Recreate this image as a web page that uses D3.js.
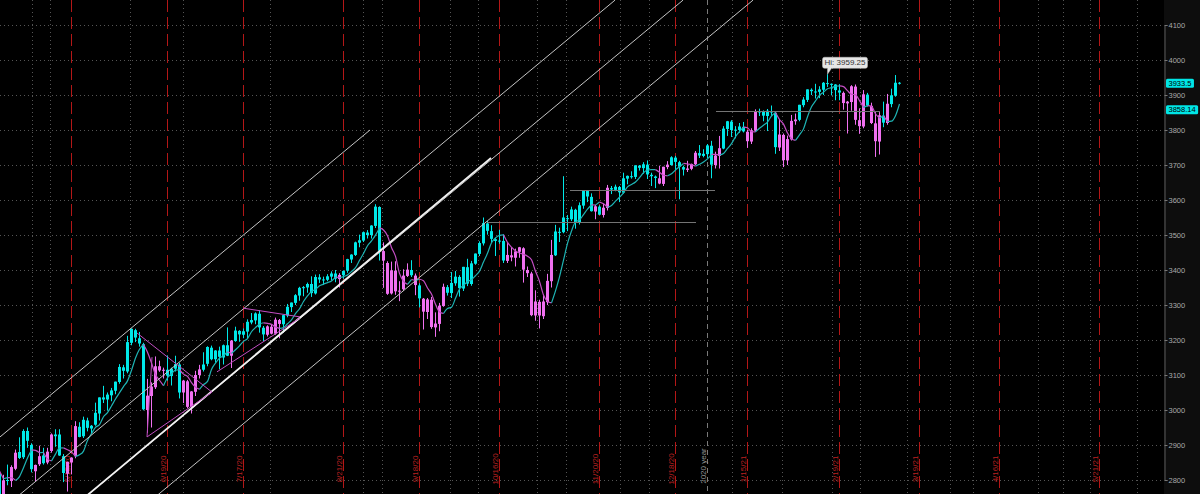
<!DOCTYPE html>
<html><head><meta charset="utf-8">
<script src="https://cdn.jsdelivr.net/npm/d3@7"></script>
<style>html,body{margin:0;padding:0;background:#000;overflow:hidden}svg{display:block}</style>
</head><body><svg id="c" width="1200" height="494"></svg>
<script>
// ---------------- DATA ----------------
const tradingDays = [
 ["2020-04",[14,15,16,17,20,21,22,23,24,27,28,29,30]],
 ["2020-05",[1,4,5,6,7,8,11,12,13,14,15,18,19,20,21,22,26,27,28,29]],
 ["2020-06",[1,2,3,4,5,8,9,10,11,12,15,16,17,18,19,22,23,24,25,26,29,30]],
 ["2020-07",[1,2,6,7,8,9,10,13,14,15,16,17,20,21,22,23,24,27,28,29,30,31]],
 ["2020-08",[3,4,5,6,7,10,11,12,13,14,17,18,19,20,21,24,25,26,27,28,31]],
 ["2020-09",[1,2,3,4,8,9,10,11,14,15,16,17,18,21,22,23,24,25,28,29,30]],
 ["2020-10",[1,2,5,6,7,8,9,12,13,14,15,16,19,20,21,22,23,26,27,28,29,30]],
 ["2020-11",[2,3,4,5,6,9,10,11,12,13,16,17,18,19,20,23,24,25,27,30]],
 ["2020-12",[1,2,3,4,7,8,9,10,11,14,15,16,17,18,21,22,23,24,28,29,30,31]],
 ["2021-01",[4,5,6,7,8,11,12,13,14,15,19,20,21,22,25,26,27,28,29]],
 ["2021-02",[1,2,3,4,5,8,9,10,11,12,16,17,18,19,22,23,24,25,26]],
 ["2021-03",[1,2,3,4,5,8,9,10,11,12]]
];
const opens = [2790,2842,2782,2805,2860,2820,2740,2800,2797,2832,2880,2865,2940,
 2900,2825,2845,2870,2850,2883,2925,2930,2868,2818,2850,2868,2952,2925,2970,2947,2958,2990,3036,3030,
 3042,3055,3080,3122,3110,3192,3228,3205,3188,3000,3040,3065,3125,3112,3115,3097,3118,3130,3050,3082,3008,3052,
 3100,3115,3132,3178,3145,3170,3150,3185,3155,3197,3226,3215,3224,3250,3256,3275,3235,3215,3238,3218,3257,3245,
 3270,3294,3306,3327,3348,3350,3360,3333,3379,3372,3372,3381,3390,3374,3385,3398,3430,3443,3478,3484,3507,
 3500,3526,3580,3454,3420,3333,3398,3338,3345,3383,3400,3384,3356,3318,3280,3315,3236,3246,3297,3351,3334,
 3362,3380,3347,3408,3360,3418,3446,3476,3533,3511,3488,3482,3483,3426,3442,3435,3452,3462,3400,3390,3270,3309,
 3268,3308,3368,3442,3509,3508,3548,3545,3572,3536,3584,3626,3609,3567,3581,3557,3577,3634,3629,3637,
 3621,3661,3668,3666,3698,3691,3701,3672,3667,3662,3646,3694,3700,3721,3708,3694,3686,3689,3702,3734,3726,3731,
 3755,3700,3726,3747,3803,3824,3799,3800,3809,3795,3767,3798,3851,3852,3840,3854,3849,3750,3786,
 3713,3773,3825,3829,3871,3886,3915,3910,3909,3915,3934,3932,3930,3913,3906,3876,3880,3924,3828,
 3810,3901,3869,3819,3767,3841,3820,3874,3898,3935];
const highs = [2851,2846,2806,2879,2868,2826,2815,2844,2842,2887,2922,2945,2950,
 2905,2844,2898,2892,2892,2933,2945,2945,2874,2852,2865,2968,2965,2981,2978,2957,3021,3036,3069,3050,
 3063,3081,3131,3129,3212,3233,3232,3223,3192,3089,3079,3153,3141,3121,3156,3121,3155,3135,3086,3086,3054,3112,
 3129,3165,3182,3184,3171,3181,3187,3236,3200,3238,3228,3233,3259,3277,3279,3285,3240,3242,3245,3264,3260,3272,
 3303,3307,3331,3352,3354,3364,3382,3387,3388,3381,3388,3396,3400,3391,3399,3432,3445,3481,3501,3510,3514,
 3528,3588,3582,3479,3425,3424,3425,3368,3402,3419,3428,3390,3362,3320,3320,3323,3279,3306,3361,3357,3394,
 3397,3385,3409,3432,3426,3447,3482,3550,3540,3528,3492,3515,3502,3477,3465,3461,3466,3465,3410,3395,3342,3315,
 3330,3389,3486,3529,3521,3668,3557,3581,3575,3593,3628,3628,3619,3586,3585,3589,3643,3640,3644,3640,
 3678,3670,3682,3699,3700,3708,3713,3678,3670,3698,3695,3711,3725,3726,3712,3698,3712,3704,3740,3757,3745,3760,
 3769,3738,3783,3811,3826,3828,3811,3820,3823,3800,3805,3859,3861,3856,3860,3870,3852,3830,3790,
 3784,3843,3847,3872,3894,3916,3919,3932,3925,3937,3959.25,3933,3931,3931,3910,3883,3928,3930,3862,
 3914,3906,3878,3852,3851,3881,3903,3918,3957,3937];
const lows = [2785,2760,2755,2800,2812,2727,2735,2785,2780,2828,2860,2860,2892,
 2822,2797,2840,2844,2845,2878,2895,2869,2794,2767,2816,2862,2922,2920,2939,2933,2955,2970,3020,2998,
 3025,3045,3075,3090,3105,3185,3194,3181,2999,2935,2950,3060,3109,3090,3084,3070,3110,3033,3020,3005,2990,3040,
 3090,3110,3125,3142,3135,3116,3130,3154,3120,3195,3195,3205,3205,3245,3245,3221,3197,3210,3216,3215,3205,3220,
 3265,3280,3300,3312,3325,3335,3323,3330,3363,3357,3368,3370,3365,3350,3375,3392,3420,3440,3465,3480,3490,
 3490,3520,3427,3349,3329,3330,3329,3311,3340,3380,3380,3328,3293,3230,3260,3232,3209,3225,3295,3327,3320,
 3355,3324,3340,3354,3355,3415,3440,3470,3501,3478,3440,3475,3420,3420,3425,3410,3435,3364,3380,3268,3255,3233,
 3260,3300,3350,3440,3480,3505,3511,3540,3518,3530,3575,3594,3567,3545,3557,3550,3570,3617,3625,3594,
 3618,3645,3661,3660,3684,3675,3660,3640,3634,3645,3640,3688,3698,3686,3602,3670,3680,3685,3700,3720,3722,3720,
 3662,3690,3690,3745,3783,3780,3776,3792,3793,3749,3760,3795,3840,3825,3797,3840,3732,3740,3694,
 3700,3770,3815,3825,3865,3880,3900,3890,3891,3900,3923,3899,3885,3885,3858,3790,3855,3815,3789,
 3805,3867,3817,3723,3730,3808,3815,3865,3895,3930];
const closes = [2846,2783,2800,2875,2823,2737,2799,2798,2837,2878,2863,2940,2912,
 2831,2843,2868,2848,2881,2930,2930,2870,2820,2852,2864,2954,2923,2972,2949,2955,2992,3036,3030,3044,
 3056,3081,3123,3112,3194,3232,3207,3190,3002,3041,3067,3125,3113,3115,3098,3118,3131,3050,3084,3009,3053,3100,
 3116,3130,3180,3145,3170,3152,3185,3155,3198,3227,3216,3225,3252,3257,3276,3236,3216,3239,3218,3258,3246,3271,
 3295,3307,3328,3349,3351,3360,3334,3380,3373,3373,3382,3390,3375,3386,3397,3431,3444,3479,3485,3508,3500,
 3527,3581,3455,3427,3332,3399,3339,3341,3384,3401,3385,3357,3319,3281,3316,3237,3247,3298,3352,3335,3363,
 3381,3348,3409,3361,3419,3447,3477,3534,3512,3489,3483,3484,3427,3443,3436,3453,3465,3401,3391,3271,3310,3270,
 3310,3369,3443,3510,3509,3550,3546,3573,3537,3585,3627,3610,3568,3582,3558,3578,3635,3630,3638,3622,
 3662,3669,3667,3699,3692,3702,3673,3668,3663,3647,3695,3701,3722,3709,3695,3687,3690,3703,3735,3727,3732,3756,
 3701,3727,3748,3804,3825,3800,3801,3810,3796,3768,3799,3852,3853,3841,3855,3850,3751,3787,3714,
 3774,3826,3830,3872,3887,3916,3911,3910,3916,3935,3933,3931,3914,3907,3877,3881,3925,3829,3811,
 3902,3870,3820,3768,3842,3821,3875,3899,3935,3933.5];
const yTicks = [2800,2900,3000,3100,3200,3300,3400,3500,3600,3700,3800,3900,4000,4100];
const expiryLabels = ["5/15/20","6/19/20","7/17/20","8/21/20","9/18/20","10/16/20","11/20/20","12/18/20","1/15/21","2/19/21","3/19/21","4/16/21","5/21/21"];
const yearMarker = {date:"12/31/20", label:"2020 year"};
const hiLabel = {date:"2/16/21", value:3959.25, text:"Hi: 3959.25"};
const lastPriceLabel = "3933.5", lastPriceValue = 3933.5;
const maLabel = "3858.14", maLabelValue = 3858.14;
const maLength = 5, maShift = 1;
// drawings: [bars from 5/15/20, price] pairs
const channelLines = [[-17.75,2923,74.75,3800],[-20,2690,136,4171],[2.25,2739,153,4171],[19.75,2739,170.5,4171]];
const boldLine = [2.25,2739,105,3720];
const levelLines = [[104,156.25,3537],[124.75,161,3629],[161.25,202.25,3854]];
const patternLines = [[16.5,3220,35.25,3051],[19,2923,35.25,3051],[20.25,3151,19,2923],[43,3291,57.25,3266],[36.5,3109,57.25,3263]];
const weekGridX = [-9.75,-5.25,14.75,28,49.75,73,77.75,94.75,101.75,116.5,123.75,137.25,144.5,165.25,177.75,190.25,197.25,209,219.75,225.5,241.75,248,254.75,266.5];

// ---------------- BUILD ----------------
const dates = [];
tradingDays.forEach(([m,ds])=>ds.forEach(d=>dates.push(m+"-"+String(d).padStart(2,"0"))));
function isoOf(mdY){const [m,d,y]=mdY.split("/");return "20"+y+"-"+m.padStart(2,"0")+"-"+d.padStart(2,"0");}
function idxOf(mdY){
  const iso=isoOf(mdY); const k=dates.indexOf(iso); if(k>=0) return k;
  let dt=new Date(dates[dates.length-1]+"T12:00:00Z"), target=new Date(iso+"T12:00:00Z"), n=dates.length-1;
  while(dt<target){dt=new Date(dt.getTime()+86400000); const w=dt.getUTCDay(); if(w!==0&&w!==6) n++;}
  return n;
}
const i0 = idxOf("5/15/20"), i1 = idxOf("5/21/21");
const W=1200,H=494, axisX=1164;
const FONT="Liberation Sans, Arial, sans-serif";
const x = d3.scaleLinear().domain([i0,i1]).range([71,1099]);
const y = d3.scaleLinear().domain([2800,4100]).range([480,25]);
const xb = b => x(i0+b);

const svg = d3.select("#c");
svg.append("rect").attr("width",W).attr("height",H).attr("fill","#000");
svg.append("rect").attr("x",axisX).attr("width",W-axisX).attr("height",H).attr("fill","#0d0d0d");
svg.append("clipPath").attr("id","pc").append("rect").attr("width",axisX).attr("height",H);
const plot = svg.append("g").attr("clip-path","url(#pc)");

// horizontal grid
plot.selectAll(".hg").data(yTicks).join("line").attr("x1",0).attr("x2",axisX)
 .attr("y1",d=>Math.round(y(d))+0.5).attr("y2",d=>Math.round(y(d))+0.5)
 .attr("stroke","#555").attr("stroke-dasharray","1,3");
// vertical dotted grid
plot.selectAll(".vg").data(weekGridX).join("line")
 .attr("x1",d=>Math.round(xb(d))+0.5).attr("x2",d=>Math.round(xb(d))+0.5).attr("y1",0).attr("y2",H)
 .attr("stroke","#555").attr("stroke-dasharray","1,3");
// expiry lines
expiryLabels.forEach(l=>{
  const xx=Math.round(x(idxOf(l)))+0.5;
  plot.append("line").attr("x1",xx).attr("x2",xx).attr("y1",0).attr("y2",H)
   .attr("stroke","#b31717").attr("stroke-dasharray","12,5");
  plot.append("text").attr("transform",`translate(${xx-2},469) rotate(-90)`).attr("text-anchor","middle")
   .attr("fill","#bb2020").attr("font-family",FONT).attr("font-size",8).text(l);
});
{ const xx=Math.round(x(idxOf(yearMarker.date)))+0.5;
  plot.append("line").attr("x1",xx).attr("x2",xx).attr("y1",0).attr("y2",H)
   .attr("stroke","#7a7a7a").attr("stroke-dasharray","5,4");
  plot.append("text").attr("transform",`translate(${xx-2},466) rotate(-90)`).attr("text-anchor","middle")
   .attr("fill","#959595").attr("font-family",FONT).attr("font-size",8).text(yearMarker.label);
}

// moving average (displaced by maShift bars) and trend colours
const smaRaw = closes.map((c,i)=> i<maLength-1?null: d3.mean(closes.slice(i-maLength+1,i+1)));
const ma = closes.map((c,i)=> i-maShift>=0 ? smaRaw[i-maShift] : null);
const up = "#00e8e8", dn = "#f070f0";
const rising = closes.map((c,i)=> (i<1||ma[i]==null||ma[i-1]==null)? true : ma[i]>=ma[i-1]);

// candles
const cg = plot.append("g");
closes.forEach((c,i)=>{
  const cx=Math.round(x(i)); const col=rising[i]?up:dn;
  cg.append("line").attr("x1",cx+0.5).attr("x2",cx+0.5).attr("y1",y(highs[i])).attr("y2",y(lows[i])).attr("stroke",col);
  const t=Math.min(y(opens[i]),y(c)), b=Math.max(y(opens[i]),y(c));
  cg.append("rect").attr("x",cx-1).attr("width",3).attr("y",t).attr("height",Math.max(1,b-t)).attr("fill",col);
});
// MA line: runs of equal slope direction
{ const pts = ma.map((v,i)=>v==null?null:[x(i)+0.5,y(v),rising[i]]);
  let run=[], runCol=null;
  const flush=()=>{ if(run.length>1) plot.append("path").attr("d",d3.line().curve(d3.curveMonotoneX)(run))
      .attr("fill","none").attr("stroke",runCol?"#1eb4b4":"#c44ec4").attr("stroke-width",1.2); };
  for(let i=0;i<pts.length;i++){
    const p=pts[i]; if(!p) continue;
    if(runCol===null){run=[[p[0],p[1]]]; runCol=p[2]; continue;}
    if(p[2]!==runCol){ const last=run[run.length-1]; flush(); run=[last]; runCol=p[2]; }
    run.push([p[0],p[1]]);
  }
  flush();
}
// drawings
const line2 = (a,col,w)=>plot.append("line").attr("x1",xb(a[0])).attr("y1",y(a[1])).attr("x2",xb(a[2])).attr("y2",y(a[3])).attr("stroke",col).attr("stroke-width",w);
channelLines.forEach(a=>line2(a,"#c4c4c4",1));
line2(boldLine,"#f2f2f2",1.8);
levelLines.forEach(a=>plot.append("line").attr("x1",xb(a[0])).attr("x2",xb(a[1])).attr("y1",Math.round(y(a[2]))+0.5).attr("y2",Math.round(y(a[2]))+0.5).attr("stroke","#747474"));
patternLines.forEach(a=>line2(a,"#c24ec2",1));

// Hi label
{ const i=idxOf(hiLabel.date); const px=Math.round(x(i))+0.5, py=y(hiLabel.value);
  const g=plot.append("g");
  g.append("path").attr("d",`M${px-3},${py-17} L${px+38},${py-17} Q${px+40},${py-17} ${px+40},${py-15} L${px+40},${py-8} Q${px+40},${py-6} ${px+38},${py-6} L${px+4},${py-6} L${px},${py} L${px},${py-6} L${px-3},${py-6} Q${px-5},${py-6} ${px-5},${py-8} L${px-5},${py-15} Q${px-5},${py-17} ${px-3},${py-17}Z`)
   .attr("fill","#e6e6e6").attr("stroke","#c0c0c0").attr("stroke-width",0.5);
  g.append("text").attr("x",px+17.5).attr("y",py-8.8).attr("text-anchor","middle").attr("fill","#333")
   .attr("font-family",FONT).attr("font-size",8).text(hiLabel.text);
}

// right axis
const ax = svg.append("g").attr("transform",`translate(${axisX+0.5},0)`)
 .call(d3.axisRight(y).tickValues(yTicks).tickSize(3).tickFormat(d3.format("d")));
ax.select(".domain").attr("stroke","#5a5a5a");
ax.selectAll(".tick line").attr("stroke","#777");
ax.selectAll(".tick text").attr("fill","#aaa").attr("font-family",FONT).attr("font-size",7.5).attr("x",4);
// price bubbles
[[lastPriceLabel,lastPriceValue],[maLabel,maLabelValue]].forEach(([t,v])=>{
  const yy=y(v);
  const g=svg.append("g");
  const r=g.append("rect").attr("x",axisX+2).attr("y",yy-4.5).attr("height",9).attr("rx",1.5).attr("fill","#00e6e6");
  const tx=g.append("text").attr("x",axisX+4.5).attr("y",yy+2.8).attr("fill","#000")
   .attr("font-family",FONT).attr("font-size",7.5).text(t);
  r.attr("width",tx.node().getComputedTextLength()+5);
});
</script></body></html>
